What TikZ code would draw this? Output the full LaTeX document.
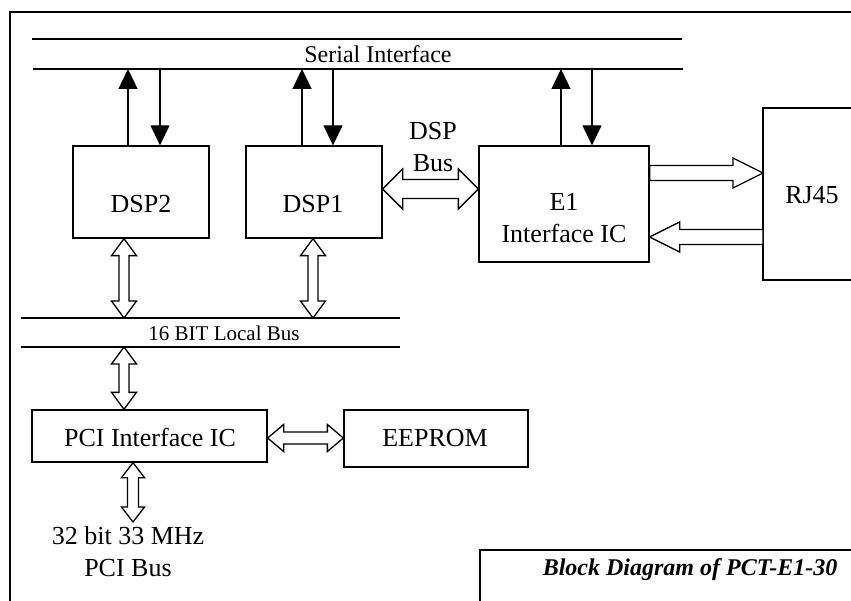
\documentclass[tikz,border=0pt]{standalone}
\usepackage{fontspec}
\setmainfont{Liberation Serif}
\usetikzlibrary{calc,arrows.meta}
\newcommand\biarrow[5]{%
 \draw[hol] let \p1=(#1), \p2=(#2),
  \n1={veclen(\x2-\x1,\y2-\y1)}, \n2={(\x2-\x1)/\n1}, \n3={(\y2-\y1)/\n1} in
  (\x1,\y1)
  -- ({\x1+#5*(\n2)-#4*(\n3)},{\y1+#5*(\n3)+#4*(\n2)})
  -- ({\x1+#5*(\n2)-#3*(\n3)},{\y1+#5*(\n3)+#3*(\n2)})
  -- ({\x2-#5*(\n2)-#3*(\n3)},{\y2-#5*(\n3)+#3*(\n2)})
  -- ({\x2-#5*(\n2)-#4*(\n3)},{\y2-#5*(\n3)+#4*(\n2)})
  -- (\x2,\y2)
  -- ({\x2-#5*(\n2)+#4*(\n3)},{\y2-#5*(\n3)-#4*(\n2)})
  -- ({\x2-#5*(\n2)+#3*(\n3)},{\y2-#5*(\n3)-#3*(\n2)})
  -- ({\x1+#5*(\n2)+#3*(\n3)},{\y1+#5*(\n3)-#3*(\n2)})
  -- ({\x1+#5*(\n2)+#4*(\n3)},{\y1+#5*(\n3)-#4*(\n2)})
  -- cycle;}
\newcommand\uniarrow[5]{%
 \draw[hol] let \p1=(#1), \p2=(#2),
  \n1={veclen(\x2-\x1,\y2-\y1)}, \n2={(\x2-\x1)/\n1}, \n3={(\y2-\y1)/\n1} in
  ({\x1-#3*(\n3)},{\y1+#3*(\n2)})
  -- ({\x2-#5*(\n2)-#3*(\n3)},{\y2-#5*(\n3)+#3*(\n2)})
  -- ({\x2-#5*(\n2)-#4*(\n3)},{\y2-#5*(\n3)+#4*(\n2)})
  -- (\x2,\y2)
  -- ({\x2-#5*(\n2)+#4*(\n3)},{\y2-#5*(\n3)-#4*(\n2)})
  -- ({\x2-#5*(\n2)+#3*(\n3)},{\y2-#5*(\n3)-#3*(\n2)})
  -- ({\x1+#3*(\n3)},{\y1-#3*(\n2)})
  -- cycle;}
\begin{document}
\begin{tikzpicture}[x=1pt,y=-1pt,
  box/.style={draw,line width=1.3pt,inner sep=0pt,rectangle},
  txt/.style={inner sep=0pt,anchor=base,font=\fontsize{26}{32}\selectfont},
  busline/.style={line width=1.3pt},
  sarrow/.style={line width=1.3pt,-{Triangle[length=20pt,width=19pt]}},
  hol/.style={draw,line width=1.3pt,fill=white,line join=miter}]
\useasboundingbox (0,0) rectangle (851,601);

% outer frame
\draw[line width=1.4pt] (10,601) -- (10,12) -- (851,12);

% serial interface bus
\coordinate (serTL) at (32,39);  \coordinate (serTR) at (682,39);
\coordinate (serBL) at (33,69);  \coordinate (serBR) at (683,69);
\draw[busline] (serTL) -- (serTR);
\draw[busline] (serBL) -- (serBR);
\node[txt,font=\fontsize{24}{28}\selectfont] (sertxt) at (378,63) {Serial Interface};

% local bus
\coordinate (lbTL) at (21,318);  \coordinate (lbTR) at (400,318);
\coordinate (lbBL) at (21,347);  \coordinate (lbBR) at (400,347);
\draw[busline] (lbTL) -- (lbTR);
\draw[busline] (lbBL) -- (lbBR);
\node[txt,font=\fontsize{21}{25}\selectfont] (lbtxt) at (224,341) {16 BIT Local Bus};

% boxes
\node[box,minimum width=136pt,minimum height=92pt] (dsp2) at (141,192) {};
\node[txt] (dsp2t) at (141,213) {DSP2};
\node[box,minimum width=136pt,minimum height=92pt] (dsp1) at (314,192) {};
\node[txt] (dsp1t) at (313,213) {DSP1};
\node[box,minimum width=170pt,minimum height=116pt] (e1) at (564,204) {};
\node[txt] (e1ta) at (564,211) {E1};
\node[txt] (e1tb) at (564,243) {Interface IC};
\coordinate (rjTL) at (763,108); \coordinate (rjBL) at (763,280);
\draw[line width=1.3pt] (851,108) -- (rjTL) -- (rjBL) -- (851,280);
\node[txt] (rj45) at (812,204) {RJ45};
\node[box,minimum width=235pt,minimum height=52pt] (pci) at (149.5,436) {};
\node[txt] (pcit) at (150,446) {PCI Interface IC};
\node[box,minimum width=184pt,minimum height=57pt] (eeprom) at (436,438.5) {};
\node[txt] (eepromt) at (435,446) {EEPROM};
\node[txt] (pcibusa) at (128,544) {32 bit 33 MHz};
\node[txt] (pcibusb) at (128,576) {PCI Bus};

% title box
\draw[line width=1.4pt] (480,601) -- (480,550) -- (851,550);
\node[txt,font=\fontsize{24}{28}\selectfont\bfseries\itshape] (title) at (690,575) {Block Diagram of PCT-E1-30};

% serial arrows
\draw[sarrow] ([xshift=-13pt]dsp2.north) -- ([xshift=-13pt]dsp2.north |- serBL);
\draw[sarrow] ([xshift=19pt]dsp2.north |- serBL) -- ([xshift=19pt]dsp2.north);
\draw[sarrow] ([xshift=-12pt]dsp1.north) -- ([xshift=-12pt]dsp1.north |- serBL);
\draw[sarrow] ([xshift=19pt]dsp1.north |- serBL) -- ([xshift=19pt]dsp1.north);
\draw[sarrow] ([xshift=-3pt]e1.north) -- ([xshift=-3pt]e1.north |- serBL);
\draw[sarrow] ([xshift=28pt]e1.north |- serBL) -- ([xshift=28pt]e1.north);

% hollow arrows
\coordinate (dspbA) at ([yshift=3pt]dsp1.east);
\coordinate (dspbB) at (dspbA -| e1.west);
\biarrow{dspbA}{dspbB}{9.5}{20}{20}
\node[txt] (dspbusa) at (433,140) {DSP};
\node[txt] (dspbusb) at (433,172) {Bus};

\coordinate (d2a) at ([xshift=-17pt]dsp2.south);
\coordinate (d2b) at (d2a |- lbTL);
\biarrow{d2a}{d2b}{5}{12.5}{17}
\coordinate (d1a) at ([xshift=-1pt]dsp1.south);
\coordinate (d1b) at (d1a |- lbTL);
\biarrow{d1a}{d1b}{5}{12.5}{17}

\coordinate (pa) at ([xshift=-25.5pt]pci.north);
\coordinate (pb) at (pa |- lbBL);
\biarrow{pb}{pa}{5}{12.5}{17}

\coordinate (pq) at ([xshift=-16.5pt]pci.south);
\coordinate (pqt) at (133,522);
\biarrow{pq}{pqt}{5.5}{11.5}{15}

\coordinate (pe1) at ([yshift=-2pt]pci.east);
\coordinate (pe2) at (pe1 -| eeprom.west);
\biarrow{pe1}{pe2}{6}{13.5}{16}

\coordinate (er1) at ([yshift=31pt]e1.east);
\coordinate (er2) at (er1 -| rjTL);
\uniarrow{er1}{er2}{7.5}{15}{30}
\coordinate (re2) at ([yshift=-33pt]e1.east);
\coordinate (re1) at (re2 -| rjTL);
\uniarrow{re1}{re2}{7.5}{15}{30}
\end{tikzpicture}
\end{document}
